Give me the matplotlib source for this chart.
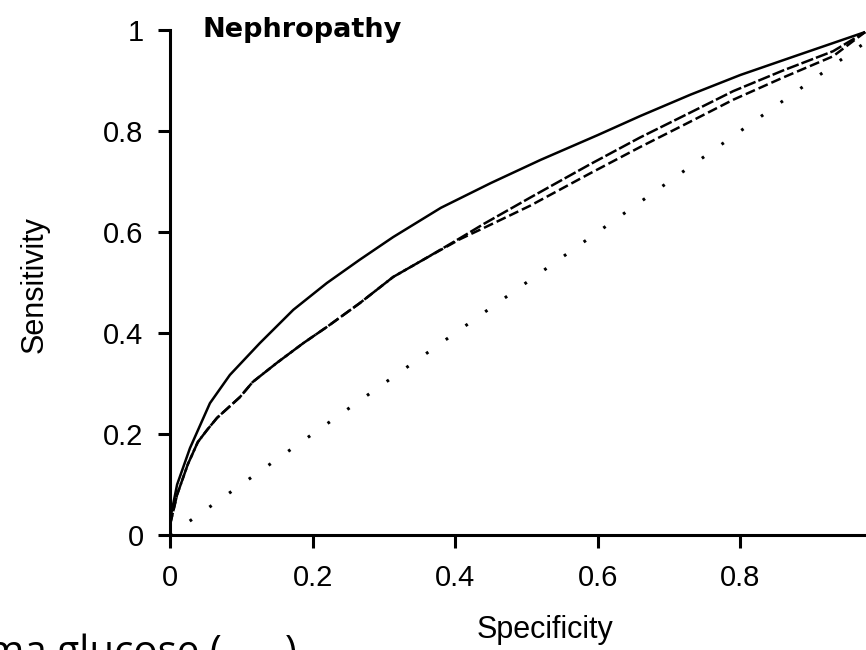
import matplotlib

matplotlib.use("Agg")
import matplotlib.pyplot as plt

# ROC curves, nephropathy panel
fpr = [0.0, 0.01, 0.028, 0.056, 0.084, 0.126, 0.173, 0.22, 0.266, 0.313, 0.38,
       0.45, 0.52, 0.60, 0.66, 0.73, 0.80, 0.88, 0.975]
sens_upper = [0.03, 0.10, 0.172, 0.261, 0.317, 0.380, 0.446, 0.499, 0.545, 0.590, 0.648,
              0.697, 0.743, 0.792, 0.830, 0.872, 0.911, 0.950, 0.996]

fpr_mid = [0.0, 0.01, 0.025, 0.039, 0.052, 0.066, 0.098, 0.116, 0.150, 0.187, 0.22,
           0.266, 0.313, 0.360, 0.407, 0.44, 0.505, 0.589, 0.659, 0.729, 0.79, 0.86,
           0.93, 0.975]
sens_mid_a = [0.02, 0.08, 0.14, 0.184, 0.208, 0.232, 0.273, 0.303, 0.341, 0.380, 0.412,
              0.459, 0.511, 0.549, 0.588, 0.616, 0.668, 0.734, 0.787, 0.836, 0.879, 0.920,
              0.958, 0.996]
sens_mid_b = [0.02, 0.08, 0.14, 0.184, 0.208, 0.232, 0.273, 0.303, 0.341, 0.380, 0.412,
              0.459, 0.511, 0.549, 0.586, 0.608, 0.652, 0.716, 0.768, 0.818, 0.862, 0.906,
              0.948, 0.996]

chance_x = [0.0, 1.0]
chance_y = [0.0, 1.0]

xticks = [0, 0.2, 0.4, 0.6, 0.8]
xtick_labels = ["0", "0.2", "0.4", "0.6", "0.8"]
yticks = [0, 0.2, 0.4, 0.6, 0.8, 1.0]
ytick_labels = ["0", "0.2", "0.4", "0.6", "0.8", "1"]

narrow = ["Liberation Sans", "DejaVu Sans"]

fig = plt.figure(figsize=(8.66, 6.5), dpi=100)
ax = fig.add_axes([0.1963, 0.1769, 0.8233, 0.7769])
ax.set_xlim(0, 1.0)
ax.set_ylim(0, 1.0)

ax.plot(fpr, sens_upper, color="black", lw=1.8, solid_capstyle="butt")
ax.plot(fpr_mid, sens_mid_a, color="black", lw=1.8, dashes=(5, 1.2))
ax.plot(fpr_mid, sens_mid_b, color="black", lw=1.8, dashes=(4, 1.6), dash_capstyle="butt")
ax.plot(chance_x, chance_y, color="black", lw=2.2, linestyle=(0, (0.9, 7.0)))

for side in ("top", "right"):
    ax.spines[side].set_visible(False)
for side in ("left", "bottom"):
    ax.spines[side].set_linewidth(2.2)

ax.set_xticks(xticks)
ax.set_xticklabels(xtick_labels, family=narrow, fontsize=21, stretch="condensed")
ax.set_yticks(yticks)
ax.set_yticklabels(ytick_labels, family=narrow, fontsize=21, stretch="condensed")
ax.tick_params(axis="x", direction="out", length=9, width=2.2, pad=12)
ax.tick_params(axis="y", direction="out", length=9, width=2.2, pad=10)

ax.text(0.046, 1.0, "Nephropathy", transform=ax.transAxes, fontsize=19.5,
        fontweight="bold", ha="left", va="center")

fig.text(545 / 866, 1 - 630 / 650, "Specificity", family=narrow, fontsize=22,
         ha="center", va="center", stretch="condensed")
fig.text(35 / 866, 1 - 285 / 650, "Sensitivity", family=narrow, fontsize=22,
         rotation=90, ha="center", va="center", stretch="condensed")

# caption running off the bottom-left edge
fig.text(297 / 866, -14 / 650, "Plasma glucose (      )", family=["Open Sans", "DejaVu Sans"],
         fontsize=29, ha="right", va="baseline")

fig.savefig("out.png", dpi=100, facecolor="white")
